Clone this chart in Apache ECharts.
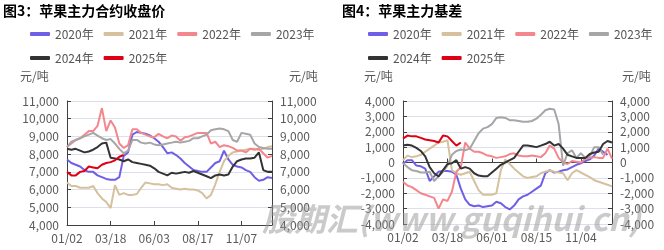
<!DOCTYPE html>
<html>
<head>
<meta charset="utf-8">
<script src="https://cdn.jsdelivr.net/npm/echarts@6/dist/echarts.min.js"></script>
<style>
html,body{margin:0;padding:0;background:#fff;}
#c{width:664px;height:250px;}
</style>
</head>
<body>
<div id="c"></div>
<script>
// ---------- data ----------
const seriesNames = ['2020年', '2021年', '2022年', '2023年', '2024年', '2025年'];
const seriesColors = ['#6f5fe6', '#d5c19d', '#f4868d', '#a6a6a6', '#333333', '#e00016'];

// Chart 3: apple main contract close price (yuan/ton), ~weekly samples
const dates1 = ['01/02','01/09','01/16','01/23','01/30','02/06','02/20','02/27','03/05','03/12',
  '03/18','03/26','04/02','04/10','04/17','04/24','05/06','05/13','05/20','05/27',
  '06/03','06/11','06/18','06/25','07/02','07/09','07/16','07/23','07/30','08/09',
  '08/17','08/26','09/02','09/09','09/16','09/23','10/09','10/16','10/23','10/30',
  '11/07','11/14','11/21','11/28','12/05','12/12','12/19','12/26'];
const price2020 = [7700,7500,7400,7300,7100,7000,7000,6800,6700,6600,
  6550,6550,6700,7900,8100,9100,9250,9200,9150,9050,
  8900,8700,8400,8050,8100,7950,7750,7500,7300,7100,
  7050,7000,7000,7250,7500,7600,8200,7700,7400,7300,
  7250,7100,7000,6700,6500,6550,6700,6650];
const price2021 = [6400,6200,6200,6100,6100,6100,6200,5800,5500,5300,
  4950,6250,5700,5800,5700,5700,5750,6100,6400,6350,
  6300,6300,6250,6300,6100,6050,6000,6050,6000,6000,
  5950,5800,5500,5700,6300,7000,7600,7900,8100,8150,
  8200,8250,8300,8300,8250,8300,8400,8450];
const price2022 = [8400,8600,8800,8900,9100,9300,9300,9600,10600,9300,
  9900,9500,8600,8350,8500,9400,9400,9200,9100,9000,
  8950,9150,9000,8900,9050,9000,8750,8950,9000,9100,
  9200,9200,9200,8600,8700,8400,8500,8450,8350,8200,
  8200,8100,8300,8250,8300,8050,7800,7900];
const price2023 = [8400,8700,8800,8900,9000,9100,9200,9050,8900,8800,
  8850,8600,8300,8050,8200,8800,8800,8650,8600,8650,
  8550,8500,8550,8600,8650,8700,8650,8700,8750,8900,
  8900,9000,9100,9350,9400,9450,9400,9300,8800,8700,
  9200,9150,9100,8600,8400,8350,8300,8300];
const price2024 = [8300,8250,8300,8200,8100,8150,8250,8400,8600,8650,
  7800,7750,7700,7600,7700,7550,7500,7450,7400,7350,
  7200,7000,6900,6800,6950,6900,6950,7000,6950,7050,
  6950,6850,6750,6650,6800,6850,6800,6850,7300,7600,
  7700,7750,7750,7800,8100,7100,7000,7000];
const price2025 = [7000,6800,6800,7000,7050,7300,7250,7200,7400,7500,
  7550,7650,7850,7950];

// Chart 4: apple main contract basis (yuan/ton)
const dates2 = ['01/02','01/09','01/16','01/23','01/30','02/06','02/20','02/27','03/05','03/11',
  '03/18','03/25','04/01','04/09','04/16','04/23','04/30','05/10','05/17','05/24',
  '06/01','06/08','06/15','06/22','06/29','07/06','07/13','07/20','07/27','08/08',
  '08/15','08/22','08/29','09/05','09/12','09/19','09/26','10/10','10/17','10/28',
  '11/04','11/11','11/18','11/25','12/02','12/09','12/16','12/23'];
const basis2020 = [-100,150,150,-200,-250,-400,-1200,-900,-600,-550,
  -550,-600,-800,-1700,-2400,-2750,-2850,-2800,-2900,-2850,
  -2800,-2550,-2650,-2900,-3050,-2800,-2400,-2200,-2100,-1900,
  -1700,-1500,-700,-500,-650,-600,-500,-450,-300,-150,
  -50,100,200,450,900,700,500];
const basis2021 = [150,450,350,400,500,700,900,1100,1300,1350,
  1450,-500,-700,-800,-700,-600,-1200,-1800,-2100,-2100,
  -2100,-2000,-500,200,-100,-400,-650,-900,-1000,-950,
  -900,-700,-600,-500,-600,-650,-700,-1150,-700,-500,
  -650,-800,-950,-1150,-1250,-1350,-1450,-1550];
const basis2022 = [-1250,-1500,-1600,-1800,-2000,-2100,-2200,-2300,-3000,-2400,
  -2500,-1900,-600,-300,1300,900,700,700,600,450,
  400,300,350,400,550,600,450,400,400,450,
  400,350,600,1100,900,300,0,-100,100,50,
  0,250,300,350,300,300,900,250];
const basis2023 = [-50,-300,-500,-550,-650,-650,-600,-1200,-900,-600,
  -200,500,750,850,800,900,1400,1900,2200,2300,
  2500,2900,2950,2900,2750,2750,2700,2650,2650,2700,
  2850,3100,3400,3500,3450,2500,-200,600,800,300,
  600,300,400,1000,1000,500];
const basis2024 = [1100,1150,1100,950,750,400,-300,-700,-900,-500,
  -100,-50,150,-400,-300,-400,-700,-850,-900,-900,
  -650,-400,-150,0,150,300,700,1100,1100,1050,
  1000,1100,1200,1350,1100,1200,900,500,400,300,
  300,300,550,650,700,1200,1400,1300];
const basis2025 = [1550,1750,1700,1700,1600,1500,1450,1400,1300,1750,
  1700,1400,1100,1300];

const ticks1 = {min: 4000, max: 11000, interval: 1000};
const ticks2 = {min: -4000, max: 4000, interval: 1000};

// ---------- chart ----------
const chart = echarts.init(document.getElementById('c'), null, {renderer: 'canvas'});
const FONT = '"Noto Sans CJK SC", "Noto Sans", sans-serif';
const labelColor = '#5a5a5a';
const axisColor = '#404040';
const gridColor = '#dde0ea';
const fmt = v => String(v).replace(/\B(?=(\d{3})+(?!\d))/g, ',');

function xAx(gi, data) {
  return {
    gridIndex: gi, type: 'category', data: data, boundaryGap: false,
    axisLine: {lineStyle: {color: axisColor, width: 1}},
    axisTick: {show: true, inside: true, length: 4, interval: 9, lineStyle: {color: axisColor}},
    axisLabel: {interval: 9, color: labelColor, fontSize: 12, margin: 7, fontFamily: FONT},
    splitLine: {show: false}
  };
}
function yAx(gi, t, pos, split) {
  return {
    gridIndex: gi, type: 'value', min: t.min, max: t.max, interval: t.interval, position: pos,
    axisLine: {show: true, lineStyle: {color: axisColor, width: 1}},
    axisTick: {show: true, inside: true, length: 4, lineStyle: {color: axisColor}},
    axisLabel: {color: labelColor, fontSize: 12, margin: 8, fontFamily: FONT, formatter: fmt},
    splitLine: {show: split, lineStyle: {color: gridColor, width: 1}}
  };
}
function lineSeries(name, idx, data, xi, yi) {
  return {
    name: name, type: 'line', xAxisIndex: xi, yAxisIndex: yi, data: data,
    showSymbol: false, symbol: 'none', animation: false,
    lineStyle: {width: 2, color: seriesColors[idx]}, itemStyle: {color: seriesColors[idx]}
  };
}
const prices = [price2020, price2021, price2022, price2023, price2024, price2025];
const bases = [basis2020, basis2021, basis2022, basis2023, basis2024, basis2025];
const series = [];
seriesNames.forEach((n, i) => series.push(lineSeries(n, i, prices[i], 0, 0)));
seriesNames.forEach((n, i) => series.push(lineSeries(n, i, bases[i], 1, 2)));

function legendAt(left) {
  return {
    left: left, top: 22, width: 300, orient: 'horizontal',
    itemWidth: 20, itemHeight: 4, itemGap: 10, icon: 'roundRect',
    textStyle: {fontSize: 12, lineHeight: 14, color: '#555555', fontFamily: FONT},
    data: seriesNames, selectedMode: false
  };
}
function unitText(cx, y) {
  return {type: 'text', left: cx - 14, top: y - 7, z: 10,
    style: {text: '元/吨', font: '12px ' + FONT, fill: '#555555'}};
}

chart.setOption({
  animation: false,
  backgroundColor: '#ffffff',
  title: [
    {text: '图3：苹果主力合约收盘价', left: 3, top: 4, padding: 0,
     textStyle: {fontSize: 14, fontWeight: 'bold', color: '#000', fontFamily: FONT}},
    {text: '图4：苹果主力基差', left: 342, top: 4, padding: 0,
     textStyle: {fontSize: 14, fontWeight: 'bold', color: '#000', fontFamily: FONT}}
  ],
  legend: [legendAt(25), legendAt(363)],
  grid: [
    {left: 67, top: 101, width: 205, height: 124},
    {left: 403, top: 101, width: 209, height: 123}
  ],
  xAxis: [xAx(0, dates1), xAx(1, dates2)],
  yAxis: [yAx(0, ticks1, 'left', true), yAx(0, ticks1, 'right', false),
          yAx(1, ticks2, 'left', true), yAx(1, ticks2, 'right', false)],
  series: series,
  graphic: [
    unitText(34, 77), unitText(303, 77), unitText(378, 77), unitText(636, 77),
    {type: 'text', left: 262, top: 203, z: 100,
     style: {text: '股期汇(www.guqihui.cn)', font: 'italic bold 32px ' + FONT,
             fill: 'rgba(150,150,150,0.5)'}}
  ]
});
</script>
</body>
</html>
